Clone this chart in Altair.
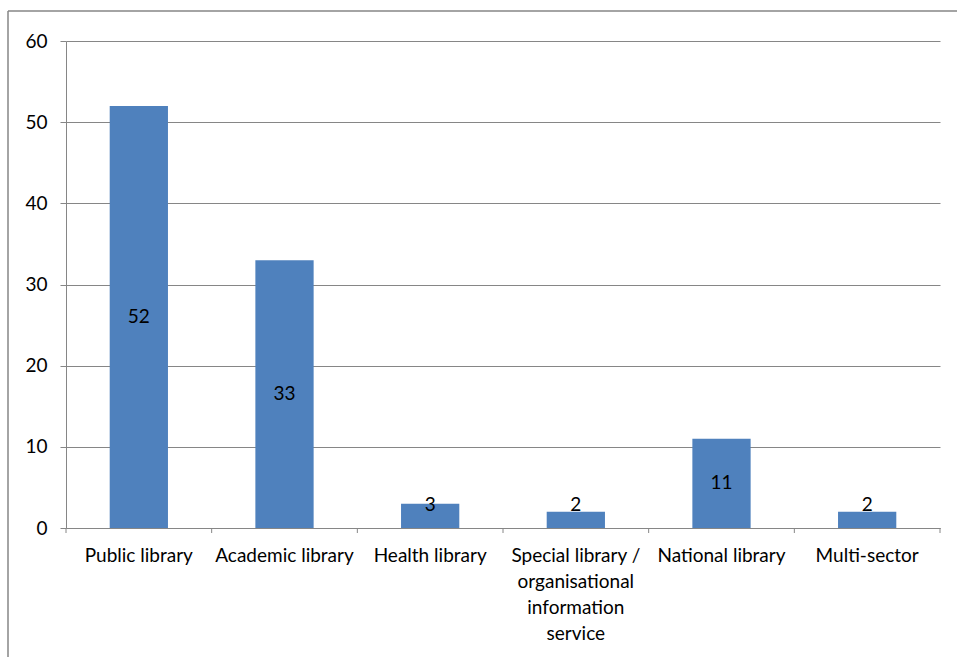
import altair as alt
import pandas as pd

# Library sector counts
categories = [
    "Public library",
    "Academic library",
    "Health library",
    "Special library / organisational information service",
    "National library",
    "Multi-sector",
]
counts = [52, 33, 3, 2, 11, 2]

y_ticks = [0, 10, 20, 30, 40, 50, 60]

FONT = "Lato"
FS = 19
GRAY = "#868686"
BLUE = "#4F81BD"

df = pd.DataFrame({"sector": categories, "count": counts})
# data labels sit in the middle of the bar, but never lower than just above the axis
df["label_pos"] = [max(v / 2, 2.8) for v in counts]

# category boundaries (0 .. n) for the tick marks between the bars
bounds = pd.DataFrame({"b": list(range(len(categories) + 1))})

W, H = 874, 487

x_enc = alt.X(
    "sector:N",
    sort=categories,
    scale=alt.Scale(paddingInner=0.6, paddingOuter=0.3),
    axis=alt.Axis(
        title=None,
        labelAngle=0,
        labelFont=FONT,
        labelFontSize=FS,
        labelColor="#000000",
        labelPadding=18,
        labelLineHeight=26,
        labelLimit=300,
        ticks=False,
        domainColor=GRAY,
        domainWidth=1,
        labelExpr=(
            "datum.label == 'Special library / organisational information service' ? "
            "['Special library /', 'organisational', 'information', 'service'] : datum.label"
        ),
    ),
)

y_scale = alt.Scale(domain=[0, 60], nice=False)

bars = alt.Chart(df).mark_bar(color=BLUE).encode(
    x=x_enc,
    y=alt.Y(
        "count:Q",
        scale=y_scale,
        axis=alt.Axis(
            title=None,
            values=y_ticks,
            labelFont=FONT,
            labelFontSize=FS,
            labelColor="#000000",
            labelPadding=13,
            tickSize=6,
            tickColor=GRAY,
            domainColor=GRAY,
            grid=True,
            gridColor=GRAY,
            gridWidth=1,
        ),
    ),
)

labels = alt.Chart(df).mark_text(
    font=FONT, fontSize=FS, color="#000000", baseline="middle", align="center"
).encode(
    x=alt.X("sector:N", sort=categories),
    y=alt.Y("label_pos:Q", scale=y_scale),
    text=alt.Text("count:Q"),
)

base_layer = alt.layer(bars, labels)

# category-boundary ticks below the x axis
bound_ticks = alt.Chart(bounds).mark_rule(color=GRAY, strokeWidth=1).encode(
    x=alt.X("b:Q", scale=alt.Scale(domain=[0, len(categories)], nice=False), axis=None),
    y=alt.value(H),
    y2=alt.value(H + 5),
)

# outer chart frame
frame_left = alt.Chart(bounds.head(1)).mark_rule(color=GRAY, strokeWidth=1.5).encode(
    x=alt.value(-58), y=alt.value(-30), y2=alt.value(H + 140)
)
frame_top = alt.Chart(bounds.head(1)).mark_rule(color=GRAY, strokeWidth=1.5).encode(
    x=alt.value(-58), x2=alt.value(W + 30), y=alt.value(-30)
)

chart = (
    alt.layer(base_layer, bound_ticks, frame_left, frame_top)
    .resolve_scale(x="independent")
    .properties(
        width=W,
        height=H,
        autosize=alt.AutoSizeParams(type="none"),
        padding={"left": 66, "top": 41, "right": 17, "bottom": 129},
        background="white",
    )
    .configure_view(stroke=None)
)

chart.save("out.html", embed_options={"renderer": "svg", "actions": False})
